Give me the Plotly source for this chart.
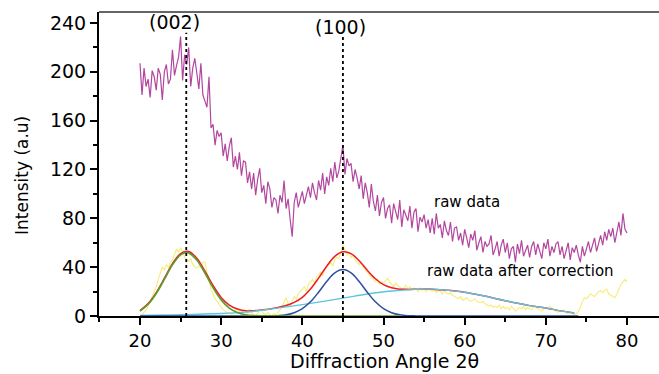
import plotly.graph_objects as go

# ---------------- data ----------------
raw_x_start, raw_step = 20.0, 0.25
raw_data = [
    207, 181, 203, 188,  194, 179, 201, 196,  185, 203, 198, 177,  200, 206, 190, 194,
    218, 197, 205, 212,  229, 193, 214, 206,  220, 188, 203, 211,  199, 186, 207, 181,
    176, 171, 196, 154,  157, 140, 152, 147,  150, 131, 141, 127,  139, 146, 122, 131,
    120, 134, 115, 127,  126, 109, 118, 104,  117, 99, 112, 121,   101, 107, 92, 110,
    104, 89, 97, 95,     84, 99, 93, 111,    88, 96, 79, 65,      93, 101, 89, 96,
    102, 92, 99, 106,    97, 109, 101, 95,   111, 103, 117, 100,  114, 107, 121, 110,
    126, 113, 119, 130,  140, 116, 129, 123, 125, 110, 120, 113,  104, 115, 96, 109,
    101, 89, 108, 94,    86, 99, 82, 93,     97, 80, 88, 91,      76, 92, 84, 79,
    95, 73, 87, 82,      78, 90, 72, 85,     88, 69, 81, 77,      83, 72, 79, 68,
    80, 67, 84, 72,      75, 64, 78, 70,     66, 77, 61, 72,      73, 62, 68, 58,
    71, 64, 56, 67,      62, 70, 54, 60,     65, 52, 61, 57,      59, 66, 50, 55,
    61, 49, 58, 63,      52, 60, 47, 55,     57, 44, 59, 51,      62, 49, 54, 58,
    48, 57, 61, 50,      59, 53, 47, 60,     55, 63, 49, 57,      52, 59, 61, 50,
    57, 47, 55, 60,      46, 56, 52, 58,     50, 44, 57, 49,      55, 61, 52, 58,
    64, 53, 60, 66,      58, 69, 62, 71,     65, 72, 60, 70,      77, 66, 84, 71,
    68,
]
corrected_data = [
    0, 1, 3, 5,     8, 12, 16, 20,   24, 30, 36, 40,  38, 42, 40, 44,
    46, 50, 55, 52, 56, 53, 48, 46,  45, 47, 42, 40,  39, 41, 40, 44,
    44, 36, 28, 22, 18, 14, 12, 9,   7, 5, 4, 2,      3, 1, 2, 4,
    6, 3, 2, 5,     4, 2, 6, 3,      1, 0, 2, 5,      4, 2, 1, 3,
    1, 0, 2, 1,     3, 5, 8, 12,     15, 10, 8, 12,   16, 14, 18, 20,
    22, 24, 20, 26, 28, 30, 27, 32,  34, 36, 33, 38,  40, 42, 44, 41,
    46, 48, 47, 52, 58, 54, 50, 52,  48, 50, 46, 44,  42, 44, 40, 38,
    36, 34, 32, 30, 28, 30, 26, 28,  27, 29, 31, 28,  26, 24, 27, 25,
    24, 22, 23, 25, 22, 24, 21, 23,  22, 20, 23, 21,  22, 20, 22, 21,
    20, 22, 19, 21, 20, 18, 21, 19,  18, 19, 17, 16,  15, 14, 16, 13,
    14, 15, 13, 12, 13, 14, 12, 11,  11, 12, 10, 9,   8, 9, 7, 8,
    7, 9, 6, 8,     6, 7, 5, 8,      6, 4, 5, 7,      6, 8, 5, 7,
    6, 5, 7, 8,     6, 5, 4, 6,      7, 6, 8, 6,      5, 4, 3, 5,
    4, 5, 3, 2,     3, 2, 1, 2,      4, 7, 12, 15,    14, 16, 18, 17,
    16, 18, 20, 21, 19, 21, 22, 18,  17, 16, 15, 18,  22, 26, 28, 30,
    28,
]

# fitted components
peak1_x = [20, 21, 22, 23, 24, 25, 25.7, 26, 27, 28, 29, 30, 31, 32, 33, 34, 35, 36, 40, 45, 52]
peak1_y = [4.0, 9.6, 18.5, 30.0, 42.0, 50.1, 52.0, 51.7, 45.9, 35.2, 23.2, 13.2, 6.5, 2.8, 1.0, 0.3, 0.1, 0, 0, 0, 0]

peak2_x = [20, 30, 36, 37, 38, 39, 40, 41, 42, 43, 44, 45, 46, 47, 48, 49, 50, 51, 52, 53, 54, 55, 65, 74]
peak2_y = [0, 0, 0, 0.3, 1.0, 2.7, 6.0, 11.6, 19.5, 28.3, 35.3, 38.0, 35.3, 28.3, 19.5, 11.6, 6.0, 2.7, 1.0, 0.3, 0.1, 0, 0, 0]

bg_x = [20, 25, 30, 33, 36, 40, 45, 48, 51, 54, 56, 58, 60, 62, 65, 68, 70, 72, 73.5]
bg_y = [0.5, 1.0, 2.0, 3.2, 5.6, 9.3, 14.6, 18.0, 20.5, 21.8, 22.0, 21.0, 19.5, 17.0, 12.5, 8.5, 6.5, 4.0, 2.5]

fit_x = [20, 21, 22, 23, 24, 25, 26, 27, 28, 29, 30, 31, 32, 33, 34, 35, 36, 37, 38, 39, 40,
         41, 42, 43, 44, 45, 46, 47, 48, 49, 50, 51, 52, 53, 54, 56, 58, 60, 62, 65, 68, 70, 72, 73.5]
fit_y = [4.5, 10.2, 19.2, 30.8, 42.9, 51.1, 52.9, 47.3, 36.8, 25.0, 15.2, 9.0, 5.8, 4.2, 4.4, 5.0, 5.8, 7.0, 8.6, 11.2, 15.3,
         22.1, 31.0, 40.8, 48.9, 52.6, 51.1, 45.3, 37.5, 30.5, 25.7, 23.2, 22.0, 21.8, 21.9, 22.0, 21.0, 19.5, 17.0, 12.5, 8.5, 6.5, 4.0, 2.5]

peak_positions = [25.7, 45.0]
peak_tops = [232, 230]
peak_labels = ["(002)", "(100)"]
label_x = [24.3, 44.7]
label_y = [241, 237]

x_ticks = [20, 30, 40, 50, 60, 70, 80]
y_ticks = [0, 40, 80, 120, 160, 200, 240]

raw_x = [raw_x_start + i * raw_step for i in range(len(raw_data))]
cor_x = [raw_x_start + i * raw_step for i in range(len(corrected_data))]

FONT = "DejaVu Sans, Arial, sans-serif"

fig = go.Figure()

fig.add_trace(go.Scatter(x=raw_x, y=raw_data, mode="lines",
                         line=dict(color="#b2479f", width=1.2), showlegend=False))
fig.add_trace(go.Scatter(x=cor_x, y=corrected_data, mode="lines",
                         line=dict(color="#f6ec78", width=1.1), showlegend=False))
fig.add_trace(go.Scatter(x=fit_x, y=fit_y, mode="lines", line_shape="spline",
                         line=dict(color="#ee1d23", width=1.5), showlegend=False))
fig.add_trace(go.Scatter(x=bg_x, y=bg_y, mode="lines", line_shape="spline",
                         line=dict(color="#5ec4dc", width=1.4), showlegend=False))
fig.add_trace(go.Scatter(x=peak2_x, y=peak2_y, mode="lines", line_shape="spline",
                         line=dict(color="#2d4fa0", width=1.5), showlegend=False))
fig.add_trace(go.Scatter(x=peak1_x, y=peak1_y, mode="lines", line_shape="spline",
                         line=dict(color="#5f9a2e", width=1.7), showlegend=False))

# dotted peak markers
for px, top in zip(peak_positions, peak_tops):
    fig.add_trace(go.Scatter(x=[px, px], y=[0, top], mode="lines",
                             line=dict(color="black", width=1.8, dash="dot"),
                             showlegend=False))

for lx, ly, lab in zip(label_x, label_y, peak_labels):
    fig.add_annotation(x=lx, y=ly, text=lab, showarrow=False,
                       font=dict(family=FONT, size=19, color="black"))

fig.add_annotation(x=60.3, y=93.5, text="raw data", showarrow=False,
                   font=dict(family=FONT, size=15, color="black"))
fig.add_annotation(x=66.9, y=36.9, text="raw data after correction", showarrow=False,
                   font=dict(family=FONT, size=15, color="black"))

# axis titles
fig.add_annotation(xref="paper", yref="paper", x=0.509, y=-0.149, xanchor="center", yanchor="middle",
                   text="Diffraction Angle 2θ",
                   showarrow=False, font=dict(family=FONT, size=19, color="black"))
fig.add_annotation(xref="paper", yref="paper", x=-0.1375, y=0.4605, xanchor="center", yanchor="middle",
                   text="Intensity (a.u)",
                   textangle=-90, showarrow=False, font=dict(family=FONT, size=17, color="black"))

# top frame line
fig.add_shape(type="line", xref="paper", yref="paper", x0=0, x1=1, y0=1, y1=1,
              line=dict(color="#666666", width=2))

fig.update_xaxes(range=[14.95, 83.94], tickvals=x_ticks, ticks="outside", ticklen=7,
                 tickwidth=1.5, tickcolor="black", showline=True, linecolor="black",
                 linewidth=2, showgrid=False, zeroline=False,
                 minor=dict(dtick=5, tick0=15, ticks="outside", ticklen=4, tickcolor="black", tickwidth=1.5),
                 tickfont=dict(family=FONT, size=18, color="black"))
fig.update_yaxes(range=[0, 249], tickvals=y_ticks, ticks="outside", ticklen=7,
                 tickwidth=1.5, tickcolor="black", showline=True, linecolor="black",
                 linewidth=2, showgrid=False, zeroline=False,
                 minor=dict(dtick=20, tick0=0, ticks="outside", ticklen=4, tickcolor="black", tickwidth=1.5),
                 tickfont=dict(family=FONT, size=19, color="black"))

fig.update_layout(width=659, height=374, margin=dict(l=99, r=0, t=12, b=58),
                  plot_bgcolor="white", paper_bgcolor="white")

fig.write_html("out.html")
